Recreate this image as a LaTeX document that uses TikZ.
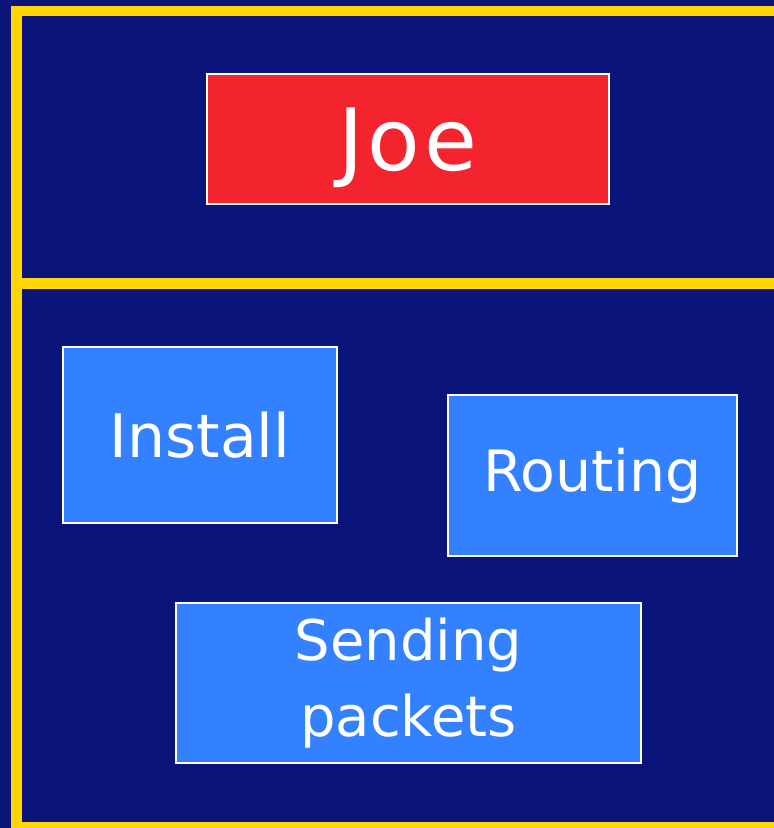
\documentclass[tikz,border=0pt]{standalone}
\usepackage{fontspec}
\setmainfont{DejaVu Sans}
\definecolor{navy}{RGB}{11,20,121}
\definecolor{frameyellow}{RGB}{255,214,0}
\definecolor{boxred}{RGB}{244,36,46}
\definecolor{boxblue}{RGB}{51,129,255}
\tikzset{
  frameline/.style={draw=frameyellow, line width=10.5pt},
  plainbox/.style={draw=white, line width=1.2pt, text=white, align=center, inner sep=0pt},
  redbox/.style={plainbox, fill=boxred, font=\fontsize{86}{100}\selectfont},
  bluebox/.style={plainbox, fill=boxblue, font=\fontsize{60}{75}\selectfont}
}
\begin{document}
\begin{tikzpicture}[x=1pt,y=-1pt]
\fill[navy] (0,0) rectangle (774,828);
\useasboundingbox (0,0) rectangle (774,828);
\begin{scope}
\clip (0,0) rectangle (774,828);
\draw[frameline] (16.5,11) rectangle (800,827.5);
\coordinate (divL) at (16.5,283.5);
\coordinate (divR) at (800,283.5);
\draw[frameline] (divL) -- (divR);
\end{scope}
\node[redbox, minimum width=402pt, minimum height=130pt, text height=62.7pt, text depth=0pt] (joe) at (408,139) {J\kern4pt o\kern4pt e};
\node[bluebox, minimum width=274pt, minimum height=176pt] (install) at (200,435) {Install};
\node[bluebox, minimum width=289pt, minimum height=161pt, font=\fontsize{57}{70}\selectfont] (routing) at (592.5,475.5) {Routing};
\node[bluebox, minimum width=465pt, minimum height=160pt, font=\fontsize{56}{76}\selectfont] (sending) at (408.5,683) {Sending\\packets};
\end{tikzpicture}
\end{document}
